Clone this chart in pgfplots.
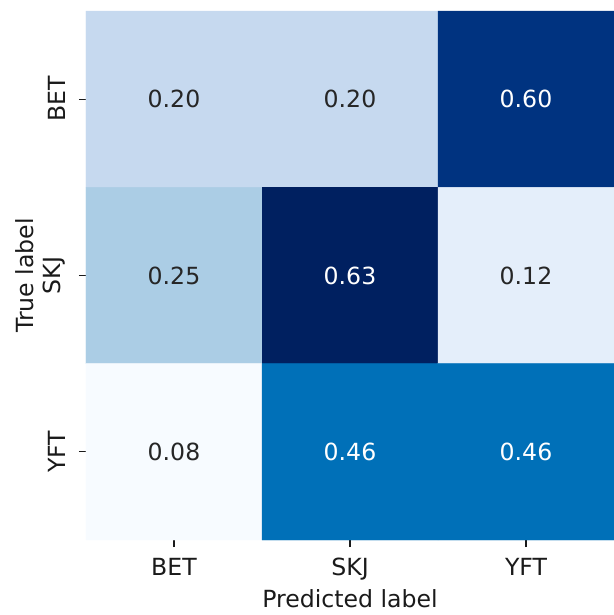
\documentclass[border=0pt]{standalone}
\usepackage{pgfplots}
\pgfplotsset{compat=1.18}
\usepackage{fontspec}
\setmainfont{DejaVu Sans}
\definecolor{annodark}{HTML}{262626}
\definecolor{tickdark}{HTML}{1A1A1A}

\begin{document}
\begin{tikzpicture}
\begin{axis}[
  scale only axis,
  width=528pt, height=529pt,
  xmin=-0.5, xmax=2.5, ymin=-0.5, ymax=2.5,
  y dir=reverse,
  axis line style={draw=none},
  xtick={0,1,2}, ytick={0,1,2},
  xticklabels={BET,SKJ,YFT},
  yticklabels={BET,SKJ,YFT},
  xtick pos=left, ytick pos=left,
  tick align=outside,
  major tick length=7pt,
  tick style={tickdark, line width=1.1pt},
  font=\fontsize{23.6}{28}\selectfont,
  ticklabel style={font=\fontsize{23.6}{28}\selectfont, text=tickdark},
  xticklabel style={anchor=north, inner sep=0pt, yshift=-11pt},
  yticklabel style={rotate=90, anchor=south, inner xsep=0pt, inner ysep=13.5pt},
  xlabel={Predicted label},
  ylabel={True label},
  label style={font=\fontsize{23.6}{28}\selectfont, text=tickdark},
  xlabel style={at={(axis description cs:0.5,0)}, anchor=center, yshift=-59pt},
  ylabel style={at={(axis description cs:-0.1155,0.5)}, anchor=center},
  colormap={conf}{
    rgb255(8pt)=(247,251,255)
    rgb255(12pt)=(228,238,250)
    rgb255(20pt)=(198,217,239)
    rgb255(25pt)=(171,205,229)
    rgb255(46pt)=(0,112,184)
    rgb255(60pt)=(0,51,128)
    rgb255(63pt)=(0,32,96)
  },
  point meta min=0.08, point meta max=0.63,
  clip=false,
]
% confusion matrix (row = true label, column = predicted label)
\addplot[matrix plot*, mesh/cols=3, point meta=explicit] table[meta=v] {
x y v
0 0 0.20
1 0 0.20
2 0 0.60
0 1 0.25
1 1 0.63
2 1 0.12
0 2 0.08
1 2 0.46
2 2 0.46
};
% cell annotations on light cells
\addplot[only marks, mark=*, mark size=0pt, mark options={draw=none, fill=none},
  nodes near coords, nodes near coords align=center,
  point meta=explicit symbolic,
  every node near coord/.append style={anchor=center, text=annodark,
    font=\fontsize{23.6}{28}\selectfont}]
  table[meta=t] {
x y t
0 0 0.20
1 0 0.20
0 1 0.25
2 1 0.12
0 2 0.08
};
% cell annotations on dark cells
\addplot[only marks, mark=*, mark size=0pt, mark options={draw=none, fill=none},
  nodes near coords, nodes near coords align=center,
  point meta=explicit symbolic,
  every node near coord/.append style={anchor=center, text=white,
    font=\fontsize{23.6}{28}\selectfont}]
  table[meta=t] {
x y t
2 0 0.60
1 1 0.63
1 2 0.46
2 2 0.46
};
\end{axis}
\pgfresetboundingbox
\path ([xshift=-86pt,yshift=-75pt]current axis.south west)
  rectangle ([yshift=11pt]current axis.north east);
\end{tikzpicture}
\end{document}
